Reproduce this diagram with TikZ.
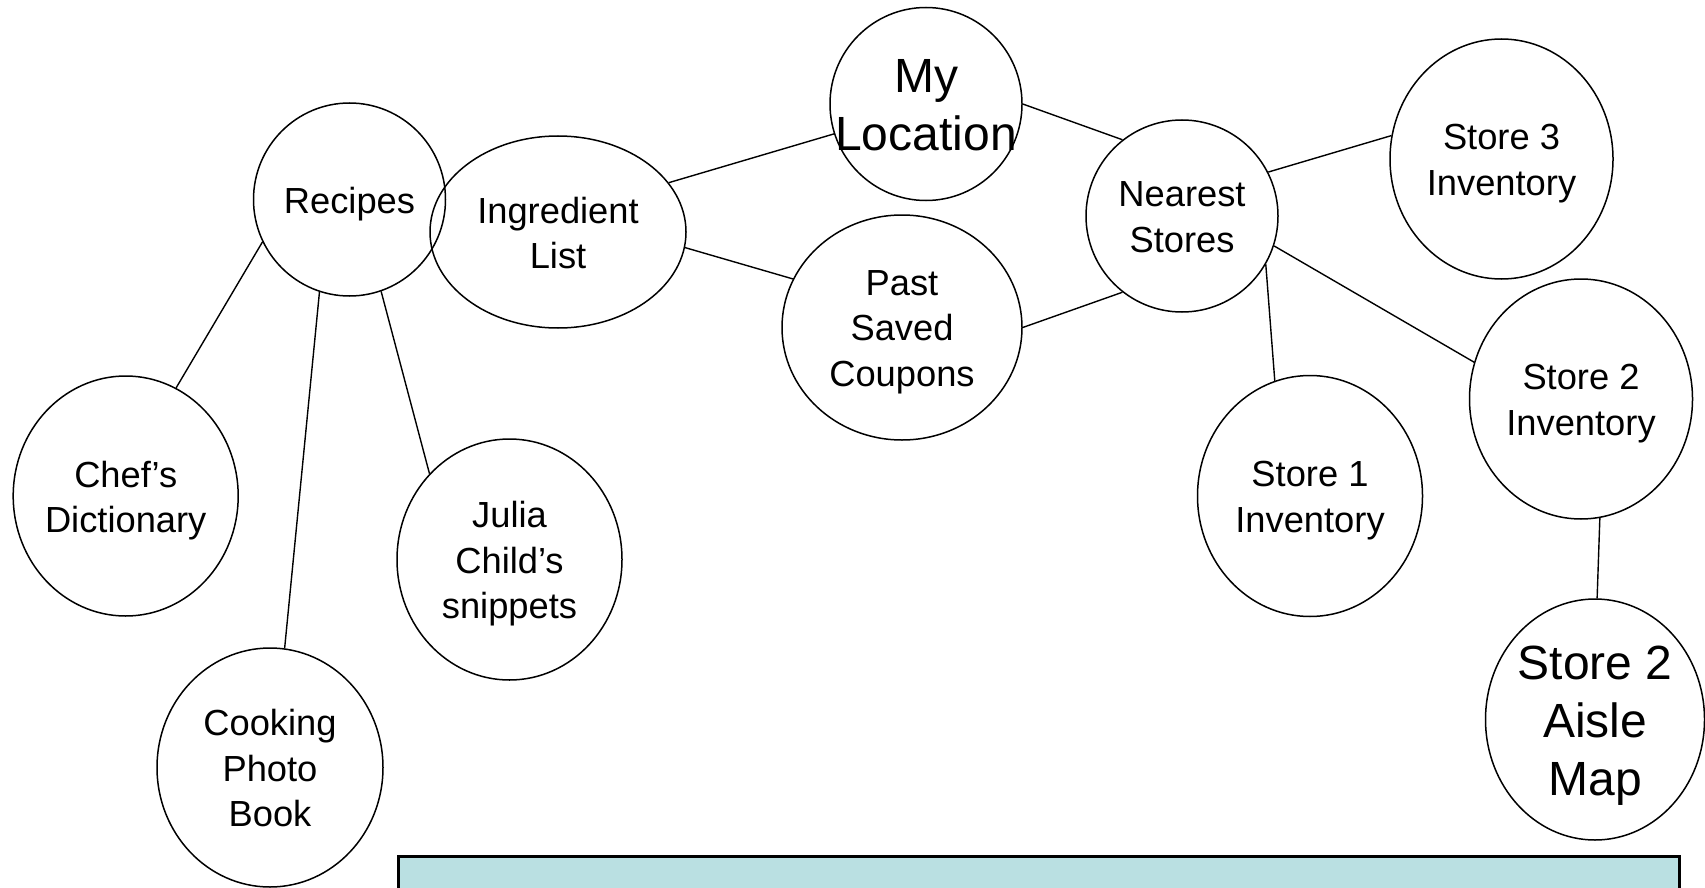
\documentclass[tikz,border=0pt]{standalone}
\usepackage{fontspec}
\setmainfont{Liberation Sans}
\usetikzlibrary{shapes.geometric}
\definecolor{boxblue}{RGB}{186,224,226}
\newcommand\dsc{\vphantom{y}}
\begin{document}
\begin{tikzpicture}[x=1pt,y=-1pt,
  bub/.style={ellipse,draw,line width=1.5pt,inner sep=0pt},
  txt/.style={align=center,font=\fontsize{36.3}{45.5}\selectfont,inner sep=0pt,yshift=-4.6pt},
  bigtxt/.style={align=center,font=\fontsize{48}{58}\selectfont,inner sep=0pt,yshift=-6pt},
  link/.style={line width=1.4pt}]
\clip (0,0) rectangle (1705,888);
\fill[white] (0,0) rectangle (1705,888);
% bubbles
\node[bub,minimum width=192pt,minimum height=193pt,label={[txt]center:Recipes}] (rec) at (349.5,199.5) {};
\node[bub,minimum width=256pt,minimum height=192pt,label={[txt]center:Ingredient\\List\dsc}] (ing) at (558,232) {};
\node[bub,minimum width=192pt,minimum height=193pt,label={[bigtxt]center:My\\Location\dsc}] (myloc) at (926,104) {};
\node[bub,minimum width=240pt,minimum height=225pt,label={[txt]center:Past\\Saved\\Coupons}] (past) at (902,327.5) {};
\node[bub,minimum width=192pt,minimum height=192pt,label={[txt]center:Nearest\\Stores\dsc}] (near) at (1182,216) {};
\node[bub,minimum width=223pt,minimum height=240pt,label={[txt]center:Store 3\\Inventory}] (s3) at (1501.5,159) {};
\node[bub,minimum width=223pt,minimum height=240pt,label={[txt]center:Store 2\\Inventory}] (s2) at (1581,399) {};
\node[bub,minimum width=225pt,minimum height=241pt,label={[txt]center:Store 1\\Inventory}] (s1) at (1310,496) {};
\node[bub,minimum width=219pt,minimum height=241pt,label={[bigtxt]center:Store 2\\Aisle\\Map}] (aisle) at (1595,719.5) {};
\node[bub,minimum width=225pt,minimum height=240pt,label={[txt]center:Chef’s\\Dictionary}] (chef) at (125.7,496) {};
\node[bub,minimum width=225pt,minimum height=241pt,label={[txt]center:Julia\\Child’s\\snippets}] (julia) at (509.5,559.5) {};
\node[bub,minimum width=226pt,minimum height=239pt,label={[txt]center:Cooking\\Photo\\Book\dsc}] (cook) at (270,767.5) {};
% bottom box
\node[draw,fill=boxblue,line width=2.5pt,inner sep=0pt,minimum width=1281pt,minimum height=80pt,anchor=north west] (box) at (397,855) {};
% connectors
\draw[link] (rec.206) -- (chef.65);
\draw[link] (rec.252) -- (cook.83);
\draw[link] (rec.289) -- (julia.133);
\draw[link] (ing.24) -- (myloc.198);
\draw[link] (ing.-7) -- (past.156);
\draw[link] (myloc.0) -- (near.128);
\draw[link] (past.0) -- (near.232);
\draw[link] (near.27) -- (s3.168);
\draw[link] (near.-18) -- (s2.161);
\draw[link] (near.-30) -- (s1.107);
\draw[link] (s2.279) -- (aisle.89);
\end{tikzpicture}
\end{document}
